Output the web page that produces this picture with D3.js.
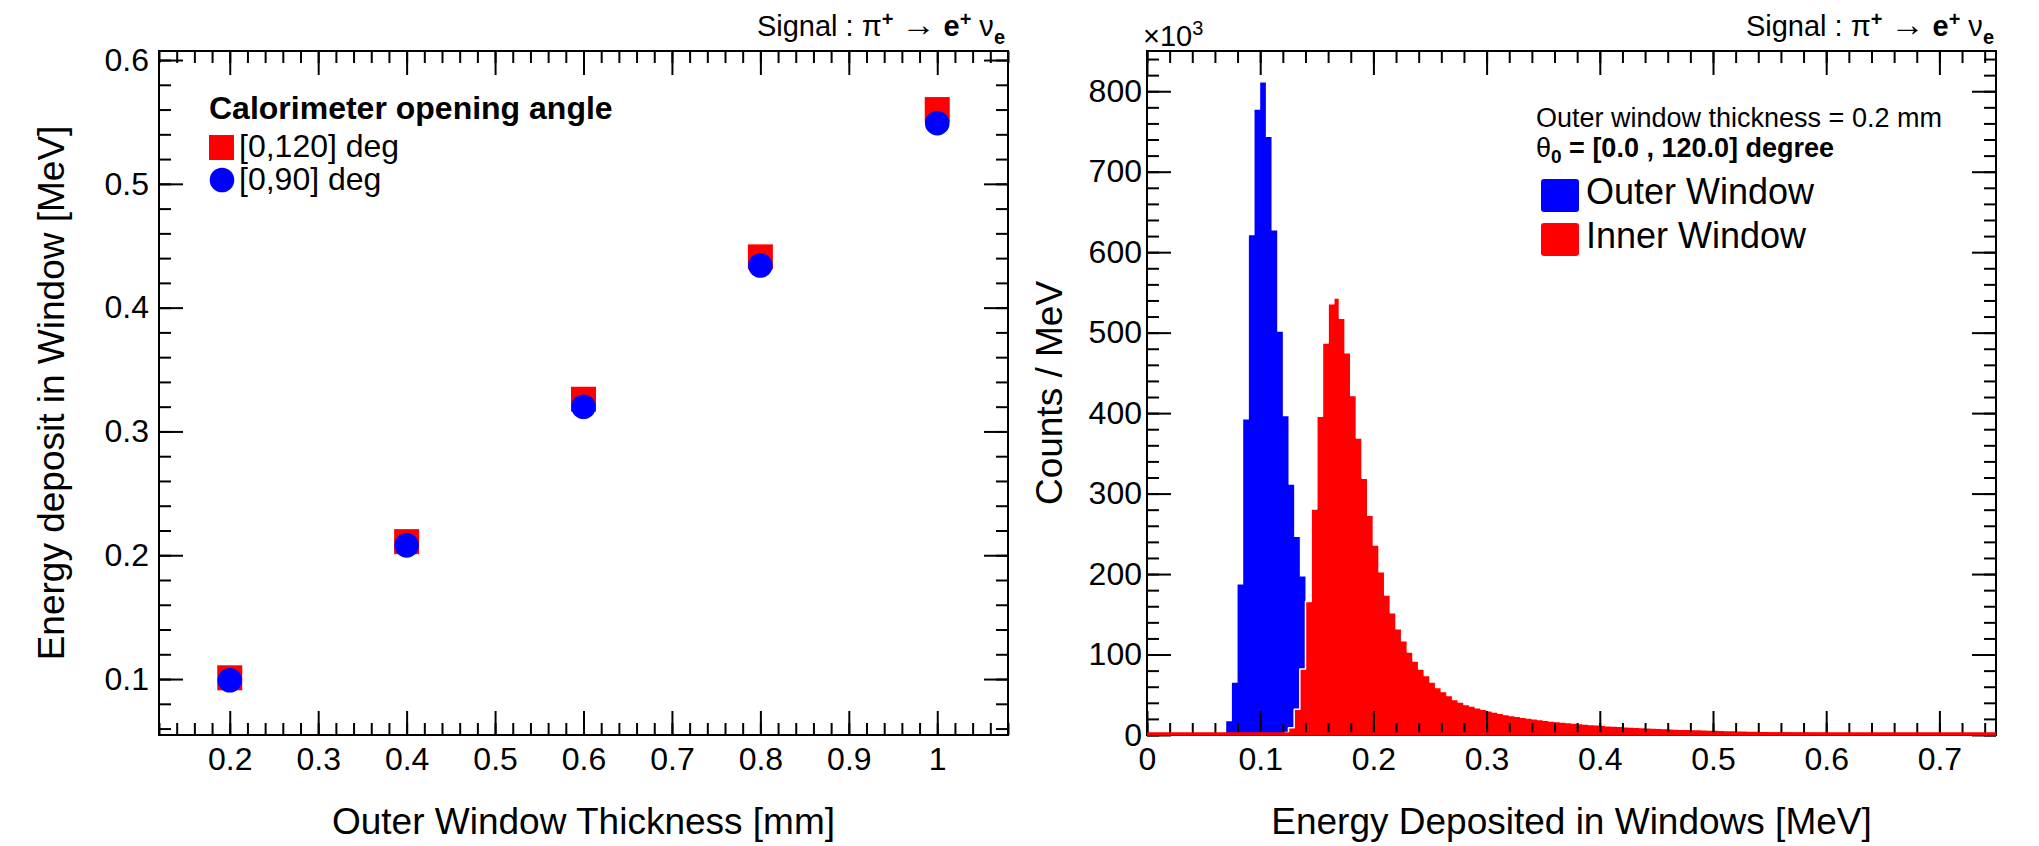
<!DOCTYPE html>
<html>
<head>
<meta charset="utf-8">
<script src="https://cdn.jsdelivr.net/npm/d3@7"></script>
<style>
	body { margin: 0; background: #fff; }
	svg text { font-family: "Liberation Sans", Arial, Helvetica, sans-serif; fill: #000; }
	.axis text { font-size: 32px; }
	.axis line { stroke: #000; stroke-width: 2; }
</style>
</head>
<body>
<svg id="graphic" width="2039" height="846"></svg>
<script>
// ---- left pad: energy deposit vs outer window thickness ----
const thickness = [0.2, 0.4, 0.6, 0.8, 1.0];
const edep120 = [0.101, 0.211, 0.326, 0.441, 0.560];
const edep90 = [0.099, 0.208, 0.320, 0.434, 0.549];
const leftXTicks = [0.2, 0.3, 0.4, 0.5, 0.6, 0.7, 0.8, 0.9, 1.0];
const leftXLabels = ["0.2", "0.3", "0.4", "0.5", "0.6", "0.7", "0.8", "0.9", "1"];
const leftYTicks = [0.1, 0.2, 0.3, 0.4, 0.5, 0.6];
const leftYLabels = ["0.1", "0.2", "0.3", "0.4", "0.5", "0.6"];

// ---- right pad: histograms, counts/MeV in units of 10^3, bins of 0.005 MeV ----
const binWidth = 0.005;
const outerFirstBin = 0.07;
const outerCounts = [17, 65, 187, 392, 621, 777, 811, 743, 627, 501, 396, 311, 246, 197,
	155, 120, 92, 70, 53, 40, 30, 22, 16, 12, 9, 7, 5, 4, 3, 2, 2, 1, 1, 1];
const innerFirstBin = 0;
const innerCounts = [
	1.5, 1.5, 1.5, 1.5, 1.5, 1.5, 1.5, 1.5, 1.5, 1.5, 1.5, 1.5, 1.5, 1.5, 1.5, 1.5, 1.5, 1.5, 1.5, 1.5, 1.5, 1.5, 1.5, 1.5,
	3, 9, 32, 82, 166, 281, 396, 487, 536, 543, 518, 475, 422, 369, 319, 273,
	236, 203, 174, 152, 132, 117, 103, 92, 82, 74, 66, 59, 54, 49, 44, 41,
	38, 36, 34, 32, 30, 28.5, 27, 25.5, 24.3, 23.2, 22.1, 21.1, 20.1, 19.2,
	18.3, 17.5, 16.8, 16.1, 15.4, 14.8, 14.2, 13.6, 13.1, 12.6,
	12.1, 11.6, 11.2, 10.8, 10.4, 10.0, 9.6, 9.3, 9.0, 8.7,
	8.4, 8.1, 7.8, 7.6, 7.3, 7.1, 6.9, 6.7, 6.5, 6.3,
	6.1, 5.9, 5.7, 5.5, 5.4, 5.2, 5.1, 4.9, 4.8, 4.7,
	4.5, 4.4, 4.3, 4.2, 4.1, 4.0, 3.9, 3.8, 3.7, 3.6,
	3.5, 3.4, 3.3, 3.3, 3.2, 3.1, 3.0, 3.0, 2.9, 2.8,
	2.8, 2.7, 2.7, 2.6, 2.6, 2.5, 2.5, 2.4, 2.4, 2.3,
	2.3, 2.2, 2.2, 2.2, 2.1, 2.1, 2.0, 2.0, 2.0, 1.9];
const rightXTicks = [0, 0.1, 0.2, 0.3, 0.4, 0.5, 0.6, 0.7];
const rightXLabels = ["0", "0.1", "0.2", "0.3", "0.4", "0.5", "0.6", "0.7"];
const rightYTicks = [0, 100, 200, 300, 400, 500, 600, 700, 800];
const rightYLabels = ["0", "100", "200", "300", "400", "500", "600", "700", "800"];

const svg = d3.select('#graphic');

// frame geometry of the two pads
const frameTop = 51, frameBottom = 735;
const leftPad = { x0: 159, x1: 1008 };
const rightPad = { x0: 1147, x1: 1996 };

const xL = d3.scaleLinear().domain([0.12, 1.08]).range([leftPad.x0, leftPad.x1]);
const yL = d3.scaleLinear().domain([0.0548, 0.6073]).range([frameBottom, frameTop]);
const xR = d3.scaleLinear().domain([0, 0.75]).range([rightPad.x0, rightPad.x1]);
const yR = d3.scaleLinear().domain([0, 850]).range([frameBottom, frameTop]);

// draws ROOT style inward ticks on all four sides
function drawAxes(x, y, xTicks, xLabels, yTicks, yLabels, xMinor, yMinor, yPad) {
	const [xa, xb] = x.range();
	const fmt = (vals, labs) => (d) => labs[vals.indexOf(d)];
	const g = svg.append('g').attr('class', 'axis');

	const addAxis = (axis, tf) => {
		g.append('g').attr('transform', tf).call(axis)
			.call(s => s.select('.domain').remove());
	};
	// bottom
	addAxis(d3.axisBottom(x).tickValues(xTicks).tickSize(-24).tickPadding(12).tickFormat(fmt(xTicks, xLabels)), `translate(0,${frameBottom})`);
	addAxis(d3.axisBottom(x).tickValues(xMinor).tickSize(-12).tickFormat(''), `translate(0,${frameBottom})`);
	// top
	addAxis(d3.axisTop(x).tickValues(xTicks).tickSize(-24).tickFormat(''), `translate(0,${frameTop})`);
	addAxis(d3.axisTop(x).tickValues(xMinor).tickSize(-12).tickFormat(''), `translate(0,${frameTop})`);
	// left
	addAxis(d3.axisLeft(y).tickValues(yTicks).tickSize(-24).tickPadding(yPad).tickFormat(fmt(yTicks, yLabels)), `translate(${xa},0)`);
	addAxis(d3.axisLeft(y).tickValues(yMinor).tickSize(-12).tickFormat(''), `translate(${xa},0)`);
	// right
	addAxis(d3.axisRight(y).tickValues(yTicks).tickSize(-24).tickFormat(''), `translate(${xb},0)`);
	addAxis(d3.axisRight(y).tickValues(yMinor).tickSize(-12).tickFormat(''), `translate(${xb},0)`);

	g.selectAll('g').attr('font-family', null).attr('font-size', null);

	g.append('rect')
		.attr('x', xa).attr('y', frameTop)
		.attr('width', xb - xa).attr('height', frameBottom - frameTop)
		.attr('fill', 'none').attr('stroke', '#000').attr('stroke-width', 2);
}

// "Signal : pi+ -> e+ nu_e" header
function signalLabel(xEnd) {
	const t = svg.append('text')
		.attr('x', xEnd).attr('y', 36)
		.attr('text-anchor', 'end')
		.attr('font-size', 29);
	t.append('tspan').text('Signal : \u03c0');
	t.append('tspan').attr('dy', -10).attr('font-size', 20).attr('font-weight', 'bold').text('+');
	t.append('tspan').attr('dy', 10).text('  ');
	t.append('tspan').attr('font-size', 34).text('\u2192');
	t.append('tspan').text(' ');
	t.append('tspan').attr('font-weight', 'bold').text('e');
	t.append('tspan').attr('dy', -10).attr('font-size', 20).attr('font-weight', 'bold').text('+');
	t.append('tspan').attr('dy', 10).text('  \u03bd');
	t.append('tspan').attr('dy', 8).attr('font-size', 20).attr('font-weight', 'bold').text('e');
}

// ================= left pad =================
const markerSize = 25;
svg.append('g')
	.selectAll('rect')
	.data(thickness)
	.join('rect')
	.attr('x', (d) => xL(d) - markerSize / 2)
	.attr('y', (d, i) => yL(edep120[i]) - markerSize / 2)
	.attr('width', markerSize)
	.attr('height', markerSize)
	.attr('fill', '#ff0000');

svg.append('g')
	.selectAll('circle')
	.data(thickness)
	.join('circle')
	.attr('cx', (d) => xL(d))
	.attr('cy', (d, i) => yL(edep90[i]))
	.attr('r', 12.3)
	.attr('fill', '#0000ff');

drawAxes(xL, yL, leftXTicks, leftXLabels, leftYTicks, leftYLabels,
	d3.range(0.12, 1.0801, 0.02), d3.range(0.06, 0.6001, 0.02), 10);

// legend
svg.append('text').attr('x', 209).attr('y', 119).attr('font-size', 32).attr('font-weight', 'bold')
	.text('Calorimeter opening angle');
svg.append('rect').attr('x', 209).attr('y', 135).attr('width', markerSize).attr('height', markerSize).attr('fill', '#ff0000');
svg.append('text').attr('x', 239).attr('y', 157).attr('font-size', 32).text('[0,120] deg');
svg.append('circle').attr('cx', 222).attr('cy', 180).attr('r', 12.3).attr('fill', '#0000ff');
svg.append('text').attr('x', 239).attr('y', 190).attr('font-size', 32).text('[0,90] deg');

signalLabel(1005);

svg.append('text')
	.attr('x', (leftPad.x0 + leftPad.x1) / 2).attr('y', 834)
	.attr('text-anchor', 'middle').attr('font-size', 37)
	.text('Outer Window Thickness [mm]');
svg.append('text')
	.attr('transform', `translate(64,${(frameTop + frameBottom) / 2}) rotate(-90)`)
	.attr('text-anchor', 'middle').attr('font-size', 37)
	.text('Energy deposit in Window [MeV]');

// ================= right pad =================
function histPoints(start, counts) {
	const pts = [{ x: start, v: 0 }];
	counts.forEach((c, i) => pts.push({ x: start + i * binWidth, v: c }));
	const end = start + counts.length * binWidth;
	pts.push({ x: end, v: counts[counts.length - 1] });
	pts.push({ x: end, v: 0 });
	return pts;
}

const area = d3.area()
	.x((d) => xR(d.x))
	.y0(yR(0))
	.y1((d) => yR(d.v))
	.curve(d3.curveStepAfter);
const outline = d3.line()
	.x((d) => xR(d.x))
	.y((d) => yR(d.v))
	.curve(d3.curveStepAfter);

const outerPts = histPoints(outerFirstBin, outerCounts);
const innerPts = histPoints(innerFirstBin, innerCounts);

svg.append('path').datum(outerPts).attr('d', area).attr('fill', '#0000ff');
svg.append('path').datum(innerPts).attr('d', area).attr('fill', '#ff0000');
svg.append('path').datum(innerPts.slice(0, -1)).attr('d', outline)
	.attr('fill', 'none').attr('stroke', '#fff').attr('stroke-width', 1.5)
	.attr('stroke-linejoin', 'round').attr('stroke-linecap', 'round');

drawAxes(xR, yR, rightXTicks, rightXLabels, rightYTicks, rightYLabels,
	d3.range(0, 0.7501, 0.02), d3.range(0, 851, 20), 5);

// red zero-level line of the inner window histogram, drawn over the frame
svg.append('line')
	.attr('x1', xR(innerFirstBin)).attr('x2', xR(innerFirstBin + innerCounts.length * binWidth))
	.attr('y1', yR(0) - 1).attr('y2', yR(0) - 1)
	.attr('stroke', '#ff0000').attr('stroke-width', 3.5);

// x10^3 exponent
const expo = svg.append('text').attr('x', 1143).attr('y', 46).attr('font-size', 29);
expo.append('tspan').text('\u00d710');
expo.append('tspan').attr('dy', -11).attr('font-size', 20).text('3');

signalLabel(1994);

// legend header lines
svg.append('text').attr('x', 1536).attr('y', 127).attr('font-size', 27)
	.text('Outer window thickness = 0.2 mm');
const th = svg.append('text').attr('x', 1536).attr('y', 157).attr('font-size', 27);
th.append('tspan').text('\u03b8');
th.append('tspan').attr('dy', 6).attr('font-size', 19).attr('font-weight', 'bold').text('0');
th.append('tspan').attr('dy', -6).attr('font-weight', 'bold').text(' = [0.0 , 120.0] degree');

const legendItems = [
	{ label: 'Outer Window', colour: '#0000ff' },
	{ label: 'Inner Window', colour: '#ff0000' }
];
legendItems.forEach((item, i) => {
	svg.append('rect')
		.attr('x', 1541).attr('y', 179 + i * 44)
		.attr('width', 38).attr('height', 33).attr('rx', 3)
		.attr('fill', item.colour);
	svg.append('text')
		.attr('x', 1586).attr('y', 204 + i * 44)
		.attr('font-size', 36)
		.text(item.label);
});

svg.append('text')
	.attr('x', (rightPad.x0 + rightPad.x1) / 2).attr('y', 834)
	.attr('text-anchor', 'middle').attr('font-size', 37)
	.text('Energy Deposited in Windows [MeV]');
svg.append('text')
	.attr('transform', `translate(1062,${(frameTop + frameBottom) / 2}) rotate(-90)`)
	.attr('text-anchor', 'middle').attr('font-size', 37)
	.text('Counts / MeV');
</script>
</body>
</html>
